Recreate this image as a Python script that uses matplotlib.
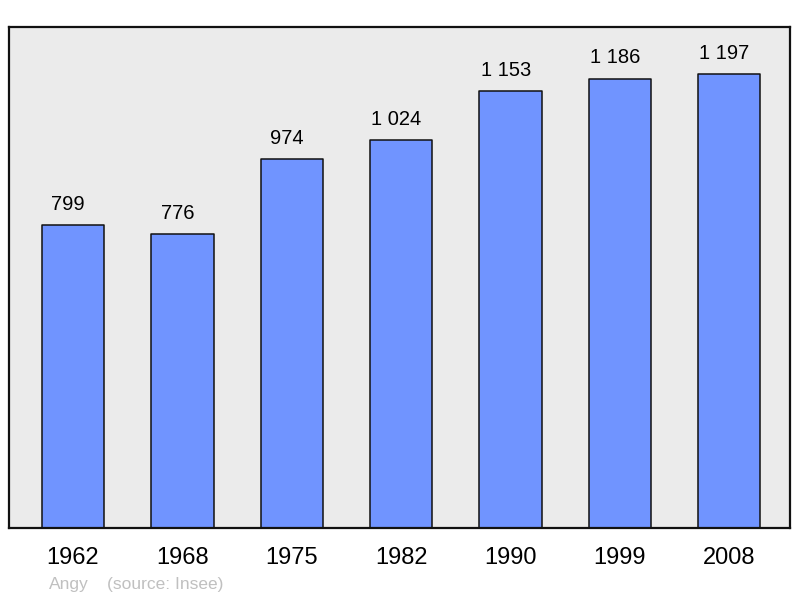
import matplotlib.pyplot as plt

plt.rcParams['font.family'] = ['Liberation Sans', 'DejaVu Sans']

years = ['1962', '1968', '1975', '1982', '1990', '1999', '2008']
population = [799, 776, 974, 1024, 1153, 1186, 1197]
labels = ['799', '776', '974', '1 024', '1 153', '1 186', '1 197']

fig = plt.figure(figsize=(8, 5.98), dpi=100)
ax = fig.add_axes([9 / 800, 70 / 598, 781 / 800, 501 / 598])
ax.set_facecolor('#ebebeb')

x = range(len(years))
bars = ax.bar(x, population, width=0.57, color='#7094ff', edgecolor='#111111',
              linewidth=1.1, zorder=2)
for b in bars:
    b.set_joinstyle('round')

# value labels sit a little left of the bar centre in the original
for xi, v, t in zip(x, population, labels):
    ax.annotate(t, (xi, v), xytext=(-3.5, 8), textcoords='offset points',
                ha='center', va='bottom', fontsize=14.5)

ax.set_xlim(-0.585, 6.555)
ax.set_ylim(0, 1322)
ax.set_yticks([])
ax.set_xticks(list(x))
ax.set_xticklabels(years, fontsize=17)
ax.tick_params(axis='x', length=0, pad=14)
for s in ax.spines.values():
    s.set_linewidth(1.6)
    s.set_color('#111111')
    s.set_joinstyle('round')

fig.text(49 / 800, 1 - 585 / 598, 'Angy', fontsize=12.5, color='#c0c0c0', va='center')
fig.text(107 / 800, 1 - 585 / 598, '(source: Insee)', fontsize=12.5, color='#c0c0c0', va='center')

fig.savefig('out.png', dpi=100)
